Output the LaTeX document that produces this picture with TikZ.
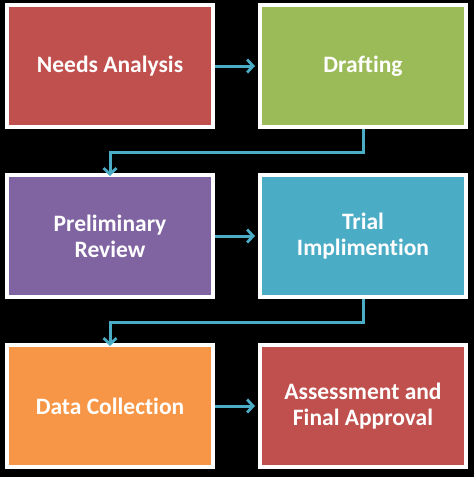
\documentclass[tikz,border=0pt]{standalone}
\usepackage{fontspec}
\setmainfont[Ligatures={NoCommon}]{Carlito}
\usetikzlibrary{arrows.meta}
\definecolor{cred}{HTML}{C0504D}
\definecolor{cgreen}{HTML}{9BBB59}
\definecolor{cpurple}{HTML}{8064A2}
\definecolor{cblue}{HTML}{4BACC6}
\definecolor{corange}{HTML}{F79646}
\tikzset{
  stagebox/.style={draw=white, line width=4pt, minimum width=206pt, minimum height=122pt,
    text=white, align=center, font=\fontsize{23.5}{26}\selectfont\bfseries, inner sep=0pt},
  conn/.style={draw=cblue, line width=3pt, -{Straight Barb[length=6pt,width=13pt,line width=2.8pt]}}
}
\begin{document}
\begin{tikzpicture}[x=1pt,y=-1pt]
\fill[black] (0,0) rectangle (474,477);
\useasboundingbox (0,0) rectangle (474,477);
\node[stagebox, fill=cred]    (na) at (110,66)  {Needs Analysis};
\node[stagebox, fill=cgreen]  (dr) at (363,66)  {Drafting};
\node[stagebox, fill=cpurple] (pr) at (110,236) {Preliminary\\Review};
\node[stagebox, fill=cblue]   (ti) at (363,236) {Trial\\Implimention};
\node[stagebox, fill=corange] (dc) at (110,406) {Data Collection};
\node[stagebox, fill=cred]    (as) at (363,406) {Assessment and\\Final Approval};
\draw[conn] (na.east) -- ([xshift=-3pt]dr.west);
\draw[conn] (pr.east) -- ([xshift=-3pt]ti.west);
\draw[conn] (dc.east) -- ([xshift=-3pt]as.west);
\draw[conn] (dr.south) -- ++(0,23) -| ([yshift=-3pt]pr.north);
\draw[conn] (ti.south) -- ++(0,23) -| ([yshift=-3pt]dc.north);
\end{tikzpicture}
\end{document}
